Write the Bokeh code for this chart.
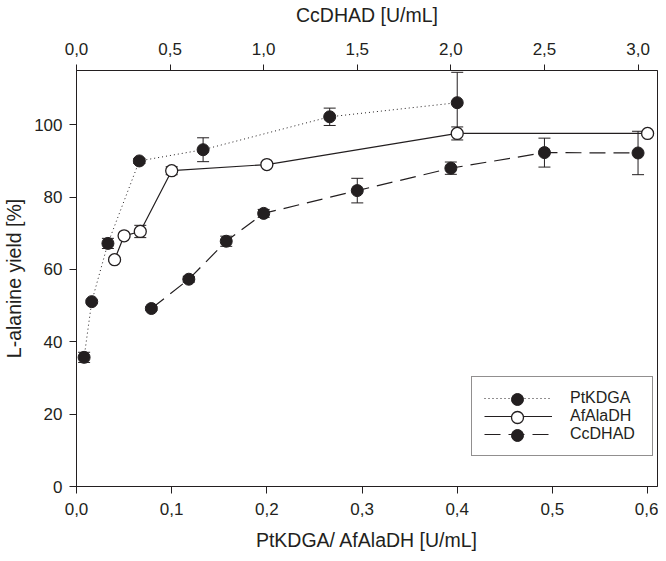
from bokeh.plotting import figure
from bokeh.models import (ColumnDataSource, Range1d, LinearAxis, FixedTicker,
                          Whisker, TeeHead, Legend, LegendItem)
from bokeh.embed import file_html
from bokeh.resources import INLINE

# PtKDGA (bottom axis, U/mL)
pt_x = [0.008, 0.016, 0.033, 0.066, 0.133, 0.266, 0.4]
pt_y = [35.7, 51.1, 67.2, 90.0, 93.1, 102.2, 106.1]
pt_err = [1.4, 0.4, 1.4, 0.7, 3.3, 2.4, 8.4]

# AfAlaDH (bottom axis, U/mL)
af_x = [0.04, 0.05, 0.067, 0.1, 0.2, 0.4, 0.6]
af_y = [62.7, 69.3, 70.5, 87.3, 89.0, 97.6, 97.6]
af_err = [0.5, 0.5, 1.7, 1.1, 0.5, 1.8, 0.5]

# CcDHAD (top axis, U/mL)
cc_x = [0.4, 0.6, 0.8, 1.0, 1.5, 2.0, 2.5, 3.0]
cc_y = [49.2, 57.3, 67.8, 75.5, 81.8, 88.0, 92.3, 92.2]
cc_err = [0.5, 0.8, 1.4, 1.1, 3.4, 1.7, 4.0, 6.0]

bottom_ticks = [0.0, 0.1, 0.2, 0.3, 0.4, 0.5, 0.6]
top_ticks = [0.0, 0.5, 1.0, 1.5, 2.0, 2.5, 3.0]
y_ticks = [0, 20, 40, 60, 80, 100]

FONT = "Liberation Sans"
INK = "#231f20"


def comma(v):
    return ("%.1f" % v).replace(".", ",")


def make_src(x, y, err):
    return ColumnDataSource(dict(x=x, y=y,
                                 lo=[a - e for a, e in zip(y, err)],
                                 hi=[a + e for a, e in zip(y, err)]))


def style_axis(ax, label, tick_out):
    ax.axis_label = label
    ax.axis_label_text_font = FONT
    ax.axis_label_text_font_size = "19.5px"
    ax.axis_label_text_font_style = "normal"
    ax.axis_label_text_color = INK
    ax.major_label_text_font = FONT
    ax.major_label_text_font_size = "17px"
    ax.major_label_text_color = INK
    ax.axis_line_color = INK
    ax.major_tick_line_color = INK
    ax.major_tick_out = tick_out
    ax.major_tick_in = 0
    ax.minor_tick_line_color = None


def main():
    p = figure(width=658, height=553, output_backend="svg", toolbar_location=None,
               x_range=Range1d(0, 0.6104), y_range=Range1d(0, 115),
               min_border_left=76, min_border_right=1,
               min_border_top=67, min_border_bottom=64)
    p.extra_x_ranges = {"top": Range1d(0, 3.104)}
    p.xgrid.visible = False
    p.ygrid.visible = False
    p.outline_line_color = INK
    p.background_fill_color = "white"
    p.border_fill_color = "white"

    style_axis(p.xaxis[0], "PtKDGA/ AfAlaDH [U/mL]", 7)
    p.xaxis[0].ticker = FixedTicker(ticks=bottom_ticks)
    p.xaxis[0].major_label_overrides = {t: comma(t) for t in bottom_ticks}
    p.xaxis[0].major_label_standoff = 9
    p.xaxis[0].axis_label_standoff = 11

    style_axis(p.yaxis[0], "L-alanine yield [%]", 7)
    p.yaxis[0].ticker = FixedTicker(ticks=y_ticks)
    p.yaxis[0].major_label_standoff = 7
    p.yaxis[0].axis_label_standoff = 6

    top = LinearAxis(x_range_name="top")
    style_axis(top, "CcDHAD [U/mL]", 6)
    top.ticker = FixedTicker(ticks=top_ticks)
    top.major_label_overrides = {t: comma(t) for t in top_ticks}
    top.major_label_standoff = 10
    top.axis_label_standoff = 14
    p.add_layout(top, "above")

    pt = make_src(pt_x, pt_y, pt_err)
    af = make_src(af_x, af_y, af_err)
    cc = make_src(cc_x, cc_y, cc_err)

    for src, rng in ((pt, "default"), (af, "default"), (cc, "top")):
        w = Whisker(source=src, base="x", upper="hi", lower="lo",
                    x_range_name=rng, line_color=INK, line_width=1,
                    upper_head=TeeHead(size=12, line_color=INK, line_width=1),
                    lower_head=TeeHead(size=12, line_color=INK, line_width=1))
        p.add_layout(w)

    l_pt = p.line("x", "y", source=pt, line_color=INK, line_width=1, line_dash="1 3")
    l_af = p.line("x", "y", source=af, line_color=INK, line_width=1.2)
    l_cc = p.line("x", "y", source=cc, x_range_name="top", line_color=INK,
                  line_width=1.2, line_dash="16 8")

    s_pt = p.scatter("x", "y", source=pt, size=12, fill_color=INK, line_color=INK)
    s_af = p.scatter("x", "y", source=af, size=12, fill_color="white",
                     line_color=INK, line_width=1.3)
    s_cc = p.scatter("x", "y", source=cc, x_range_name="top", size=12,
                     fill_color=INK, line_color=INK)

    names = ["PtKDGA", "AfAlaDH", "CcDHAD"]
    lines = [l_pt, l_af, l_cc]
    marks = [s_pt, s_af, s_cc]

    # boxed legend with the line styles
    lx, ly, pad, row = 395, 30, 12, 18
    legend = Legend(items=[LegendItem(label=n, renderers=[r]) for n, r in zip(names, lines)],
                    location=(lx, ly))
    legend.border_line_color = INK
    legend.border_line_width = 1
    legend.background_fill_alpha = 1
    legend.label_text_font = FONT
    legend.label_text_font_size = "16px"
    legend.label_text_color = INK
    legend.glyph_width = 68
    legend.glyph_height = row
    legend.label_height = row
    legend.label_width = 70
    legend.spacing = 0
    legend.padding = pad
    legend.margin = 0
    legend.label_standoff = 18
    p.add_layout(legend, "center")

    # full size markers drawn over the legend rows
    top_y = ly + 2 * pad + 3 * row
    for i, r in enumerate(marks):
        cy = top_y - pad - row * i - row / 2
        mk = Legend(items=[LegendItem(label="", renderers=[r])],
                    location=(lx + pad, int(round(cy - 15))))
        mk.glyph_width = 68
        mk.glyph_height = 30
        mk.label_height = 30
        mk.label_width = 0
        mk.label_standoff = 0
        mk.border_line_color = None
        mk.background_fill_alpha = 0
        mk.padding = 0
        mk.margin = 0
        mk.spacing = 0
        p.add_layout(mk, "center")

    open("out.html", "w").write(file_html(p, INLINE))


if __name__ == '__main__':
    main()
